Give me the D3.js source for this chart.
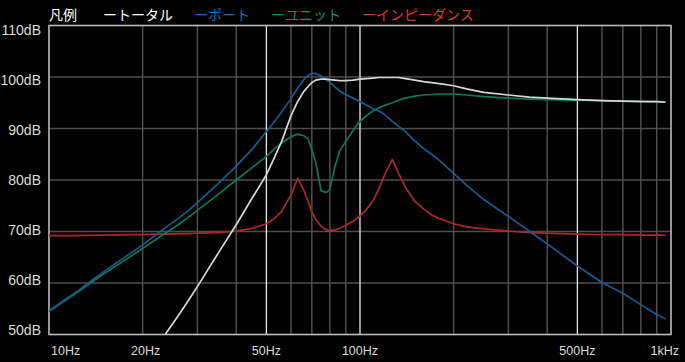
<!DOCTYPE html>
<html lang="ja">
<head>
<meta charset="UTF-8">
<title>周波数特性</title>
<script src="https://cdnjs.cloudflare.com/ajax/libs/d3/7.9.0/d3.min.js"></script>
<style>
  html,body{margin:0;padding:0;background:#000;}
  svg{display:block;}
  .tick-label{font-family:"Liberation Sans",Arial,sans-serif;fill:#dcdcdc;}
  .legend{font-family:"Noto Sans CJK JP",sans-serif;font-size:14px;}
</style>
</head>
<body>
<div id="chart"></div>
<script>
/* ---------- data ---------- */
const freqs = [10,12,15,18,20,22,24,26,28,30,35,40,45,50,53,56,60,63,66,68,70,72,75,78,80,83,86,90,95,
               100,105,110,115,120,127,133,140,150,160,170,180,200,220,250,300,350,400,500,600,700,800,900,960];

const total = [null,null,null,null,43.5,47.0,50.6,53.6,56.5,59.3,65.8,71.3,76.5,81.0,84.3,87.5,92.5,95.2,97.2,98.1,98.9,99.4,99.6,99.6,99.5,99.4,99.3,99.3,99.4,
               99.6,99.7,99.8,99.9,99.9,99.9,99.9,99.7,99.4,99.1,98.9,98.7,98.3,97.7,97.0,96.5,96.1,95.9,95.6,95.4,95.3,95.2,95.2,95.1];

const port  = [54.6,57.9,62.2,65.5,67.4,69.3,71.0,72.5,74.0,75.6,79.3,82.7,86.0,89.4,91.3,93.2,95.8,97.8,99.5,100.3,100.7,100.7,100.2,99.4,99.0,98.1,97.3,96.6,95.9,
               95.2,94.5,93.9,93.4,92.7,91.4,90.4,89.4,87.6,86.1,85.0,83.8,81.3,79.0,76.2,72.9,70.1,67.6,63.3,60.1,58.0,55.8,53.9,53.0];

const unit  = [54.5,57.7,61.8,64.9,66.7,68.4,69.9,71.3,72.7,74.1,77.2,80.0,82.4,84.6,86.0,87.2,88.4,88.9,88.6,88.0,85.9,83.5,77.9,77.6,78.2,82.5,85.6,87.5,89.6,
               91.4,92.5,93.4,94.0,94.5,95.0,95.5,95.9,96.3,96.5,96.6,96.7,96.7,96.5,96.2,95.9,95.7,95.6,95.5,95.4,95.3,95.3,95.2,95.2];

const impedance = [69.2,69.2,69.3,69.4,69.4,69.5,69.5,69.6,69.6,69.7,69.8,70.1,70.6,71.5,72.5,73.9,77.1,80.3,78.0,76.0,73.8,72.4,71.0,70.3,70.2,70.3,70.6,71.2,72.0,
               73.0,74.3,75.9,78.3,81.0,84.0,81.3,78.6,75.9,74.4,73.2,72.5,71.5,70.9,70.5,70.1,69.8,69.7,69.5,69.4,69.4,69.3,69.3,69.3];

const seriesNames  = ["トータル","ポート","ユニット","インピーダンス"];
const seriesValues = [total, port, unit, impedance];
const lineColors   = ["#d8d8d8","#1b5a8e","#10784e","#a82a2a"];
const textColors   = ["#ffffff","#1a6cb8","#12946a","#d83a3a"];

const yTicks = [50,60,70,80,90,100,110];
const gridFreqs = [20,30,40,50,60,70,80,90,200,300,400,500,600,700,800,900];
const majorFreqs = [50,100,500];
const xTickLabels = [[10,"10Hz"],[20,"20Hz"],[50,"50Hz"],[100,"100Hz"],[500,"500Hz"],[1000,"1kHz"]];

/* ---------- setup ---------- */
const W = 685, H = 362;
const svg = d3.select("#chart").append("svg").attr("width",W).attr("height",H);
svg.append("rect").attr("width",W).attr("height",H).attr("fill","#000");

const x = d3.scaleLog().domain([10,1000]).range([49,671]);
const y = d3.scaleLinear().domain([50,110]).range([334.5,25.5]);
// the program puts its dB labels on a slightly tighter spacing than the grid
const yLab = d3.scaleLinear().domain([50,110]).range([329.5,30]);

// grid
svg.append("g").selectAll("line").data(yTicks.filter(d=>d>50 && d<110)).enter().append("line")
  .attr("x1",x(10)).attr("x2",x(1000)).attr("y1",d=>y(d)).attr("y2",d=>y(d))
  .attr("stroke","#4e4e4e").attr("stroke-width",1.5);

svg.append("g").selectAll("line").data(gridFreqs.concat([100])).enter().append("line")
  .attr("x1",d=>x(d)).attr("x2",d=>x(d)).attr("y1",y(110)).attr("y2",y(50))
  .attr("stroke",d=>majorFreqs.includes(d)?"#e6e6e6":"#4e4e4e")
  .attr("stroke-width",d=>majorFreqs.includes(d)?1.3:1.5);

// frame
svg.append("rect").attr("x",x(10)).attr("y",y(110))
  .attr("width",x(1000)-x(10)).attr("height",y(50)-y(110))
  .attr("fill","none").attr("stroke","#bcbcbc").attr("stroke-width",1.6);

// clip for curves
svg.append("clipPath").attr("id","plot").append("rect")
  .attr("x",x(10)).attr("y",y(110)).attr("width",x(1000)-x(10)).attr("height",y(50)-y(110));

const line = d3.line()
  .defined(d=>d[1]!=null)
  .x(d=>x(d[0])).y(d=>y(d[1]));

const curves = svg.append("g").attr("clip-path","url(#plot)");
// draw impedance first, total on top
[3,2,1,0].forEach(i=>{
  curves.append("path")
    .datum(freqs.map((f,j)=>[f,seriesValues[i][j]]))
    .attr("d",line)
    .attr("fill","none").attr("stroke",lineColors[i])
    .attr("stroke-width",1.7).attr("stroke-linejoin","round");
});

// y labels
svg.append("g").selectAll("text").data(yTicks).enter().append("text")
  .attr("class","tick-label").attr("font-size",14)
  .attr("x",41).attr("y",d=>yLab(d)).attr("dy","0.36em")
  .attr("text-anchor","end").text(d=>d+"dB");

// x labels
svg.append("g").selectAll("text").data(xTickLabels).enter().append("text")
  .attr("class","tick-label").attr("font-size",12.5)
  .attr("x",d=>d[0]===10 ? x(d[0])+2 : d[0]===1000 ? x(d[0])+8 : x(d[0])+(d[0]===20?3:0))
  .attr("y",355)
  .attr("text-anchor",d=>d[0]===10?"start":d[0]===1000?"end":"middle")
  .text(d=>d[1]);

// legend
const lg = svg.append("g").attr("class","legend");
let lx = 49;
const head = lg.append("text").attr("x",lx).attr("y",20).attr("fill","#fff").text("凡例");
lx += head.node().getComputedTextLength() + 26;
seriesNames.forEach((n,i)=>{
  const t = lg.append("text").attr("x",lx).attr("y",20).attr("fill",textColors[i]).text("ー"+n);
  lx += t.node().getComputedTextLength() + 21;
});
</script>
</body>
</html>
